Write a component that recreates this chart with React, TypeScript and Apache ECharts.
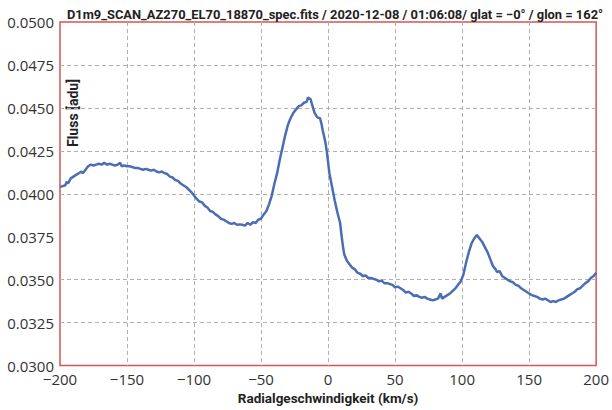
import React, { useEffect, useRef } from "react";
import * as echarts from "echarts";

const velocities = [
  -200, -198, -196, -195, -194, -192, -190, -188, -186, -184, -183, -181, -179, -177, -175, -173, -171, -169,
  -167, -165, -163, -161, -159, -157, -155, -154, -152, -150, -148, -146, -144, -142, -140, -138, -136, -134,
  -132, -130, -128, -126, -124, -122, -120, -118, -116, -114, -112, -110, -108, -106, -104, -102, -100, -98, -96,
  -94, -92, -90, -88, -86, -84, -82, -80, -78, -76, -74, -72, -70, -68, -66, -64, -62, -60, -58, -56, -54, -52,
  -50, -48, -46, -44, -42, -40, -38, -36, -34, -32, -30, -28, -26, -24, -22, -20, -18, -16, -15, -13, -12, -10,
  -8, -6, -5, -4, -2, -1, 1, 3, 5, 7, 9, 10, 11, 12, 14, 16, 18, 20, 22, 24, 26, 28, 30, 32, 34, 36, 38, 40, 42,
  44, 46, 48, 50, 52, 54, 56, 58, 60, 62, 64, 66, 68, 70, 72, 74, 76, 78, 80, 82, 84, 85, 87, 89, 91, 93, 95, 97,
  99, 101, 103, 105, 107, 109, 111, 113, 115, 117, 119, 121, 123, 125, 126, 128, 130, 132, 134, 136, 138, 140,
  142, 144, 146, 148, 150, 152, 154, 156, 158, 160, 162, 164, 166, 168, 170, 172, 174, 176, 178, 180, 182, 184,
  186, 188, 190, 192, 194, 196, 198, 200,
];
const flux = [
  0.0404, 0.04045, 0.0405, 0.0407, 0.0406, 0.0409, 0.041, 0.0411, 0.0412, 0.0413, 0.0412, 0.0414, 0.0416,
  0.0417, 0.04165, 0.0417, 0.04175, 0.0417, 0.0418, 0.0417, 0.04175, 0.0417, 0.04165, 0.0417, 0.0418, 0.0416,
  0.04165, 0.0416, 0.0416, 0.04155, 0.0415, 0.0415, 0.04145, 0.0414, 0.04145, 0.0414, 0.04135, 0.0414, 0.0413,
  0.04125, 0.0413, 0.0412, 0.04115, 0.041, 0.04095, 0.0408, 0.04075, 0.0406, 0.0405, 0.0404, 0.04025, 0.0401,
  0.0399, 0.0397, 0.03955, 0.0395, 0.0393, 0.0392, 0.039, 0.03895, 0.0388, 0.0387, 0.03855, 0.0385, 0.0384,
  0.0383, 0.03825, 0.0383, 0.0382, 0.03822, 0.0382, 0.03815, 0.0383, 0.0382, 0.03835, 0.0383, 0.0385, 0.03855,
  0.0388, 0.039, 0.0394, 0.0399, 0.0406, 0.0412, 0.042, 0.0427, 0.0434, 0.044, 0.0444, 0.0447, 0.0449, 0.0451,
  0.04515, 0.0453, 0.04535, 0.0456, 0.0455, 0.0452, 0.0447, 0.04445, 0.0444, 0.0441, 0.0437, 0.043, 0.0425,
  0.0412, 0.0404, 0.0396, 0.0389, 0.0383, 0.0376, 0.037, 0.0365, 0.0361, 0.0359, 0.0357, 0.0356, 0.0354,
  0.03535, 0.0352, 0.03525, 0.0351, 0.0351, 0.03505, 0.035, 0.0349, 0.03495, 0.0348, 0.0348, 0.03475, 0.0347,
  0.03455, 0.0346, 0.0345, 0.0344, 0.03425, 0.0343, 0.0342, 0.03405, 0.0341, 0.034, 0.03395, 0.034, 0.0339,
  0.03385, 0.0338, 0.03385, 0.0339, 0.0342, 0.0339, 0.034, 0.0341, 0.0342, 0.03435, 0.0345, 0.0347, 0.0349,
  0.0353, 0.036, 0.0366, 0.0371, 0.0374, 0.0376, 0.0374, 0.0372, 0.0369, 0.0366, 0.0362, 0.0358, 0.0356,
  0.03545, 0.0355, 0.0352, 0.0351, 0.035, 0.0349, 0.03485, 0.0347, 0.03465, 0.0345, 0.0344, 0.0343, 0.0342,
  0.0341, 0.03405, 0.034, 0.0339, 0.03385, 0.0339, 0.0338, 0.0337, 0.03375, 0.0337, 0.0338, 0.03385, 0.0339,
  0.034, 0.0341, 0.0342, 0.0343, 0.03445, 0.0345, 0.03465, 0.0348, 0.0349, 0.0351, 0.0352, 0.0354,
];

const titleText =
  "D1m9_SCAN_AZ270_EL70_18870_spec.fits / 2020-12-08 / 01:06:08/ glat = \u22120\u00b0 / glon = 162\u00b0";
const xAxisTitle = "Radialgeschwindigkeit (km/s)";
const yAxisTitle = "Fluss [adu]";

export default function App() {
  const ref = useRef<HTMLDivElement>(null);
  useEffect(() => {
    if (!ref.current) return;
    const chart = echarts.init(ref.current, null, { renderer: "svg" });
    const g = "#b0b0b0";
    const t = "rgba(0,0,0,0)";
    const xGridColors = [t, g, g, g, g, g, g, g, t];
    const yGridColors = [t, g, g, t, g, g, g, g, t];
    chart.setOption({
      animation: false,
      backgroundColor: "#ffffff",
      title: {
        text: titleText,
        left: 330,
        top: 3,
        textAlign: "center",
        textStyle: { fontFamily: "Roboto", fontWeight: "bold", fontSize: 12.9, color: "#222" },
      },
      grid: {
        left: 60,
        right: 12,
        top: 22,
        bottom: 41,
        show: true,
        borderColor: "#d9534f",
        borderWidth: 1.5,
        backgroundColor: "transparent",
      },
      xAxis: {
        type: "value",
        min: -200,
        max: 200,
        interval: 50,
        name: xAxisTitle,
        nameLocation: "middle",
        nameGap: 25,
        nameTextStyle: { fontFamily: "Roboto", fontWeight: "bold", fontSize: 13.5, color: "#222" },
        axisLine: { show: false },
        axisTick: { show: false },
        axisLabel: {
          margin: 7,
          fontFamily: "Open Sans",
          fontSize: 15,
          lineHeight: 12,
          color: "#333",
          formatter: (v: number) => (v < 0 ? "\u2212" + Math.abs(v) : String(v)),
        },
        splitLine: { show: true, lineStyle: { type: [4, 3], color: xGridColors, width: 1 } },
      },
      yAxis: {
        type: "value",
        min: 0.03,
        max: 0.05,
        interval: 0.0025,
        axisLine: { show: false },
        axisTick: { show: false },
        axisLabel: {
          margin: 6,
          fontFamily: "Open Sans",
          fontSize: 15,
          lineHeight: 12,
          color: "#333",
          formatter: (v: number) => v.toFixed(4),
        },
        splitLine: { show: true, lineStyle: { type: [4, 3], color: yGridColors, width: 1 } },
      },
      graphic: [
        {
          type: "text",
          x: 73,
          y: 113,
          rotation: Math.PI / 2,
          style: {
            text: yAxisTitle,
            fontFamily: "Roboto",
            fontWeight: "bold",
            fontSize: 14,
            fill: "#222",
            align: "center",
            verticalAlign: "middle",
          },
        },
      ],
      series: [
        {
          type: "line",
          data: velocities.map((v, i) => [v, flux[i]]),
          showSymbol: false,
          lineStyle: { color: "#4a6db4", width: 2.5 },
          clip: true,
        },
      ],
    });
    return () => chart.dispose();
  }, []);
  return <div ref={ref} style={{ position: "fixed", left: 0, top: 0, width: 612, height: 410 }} />;
}
